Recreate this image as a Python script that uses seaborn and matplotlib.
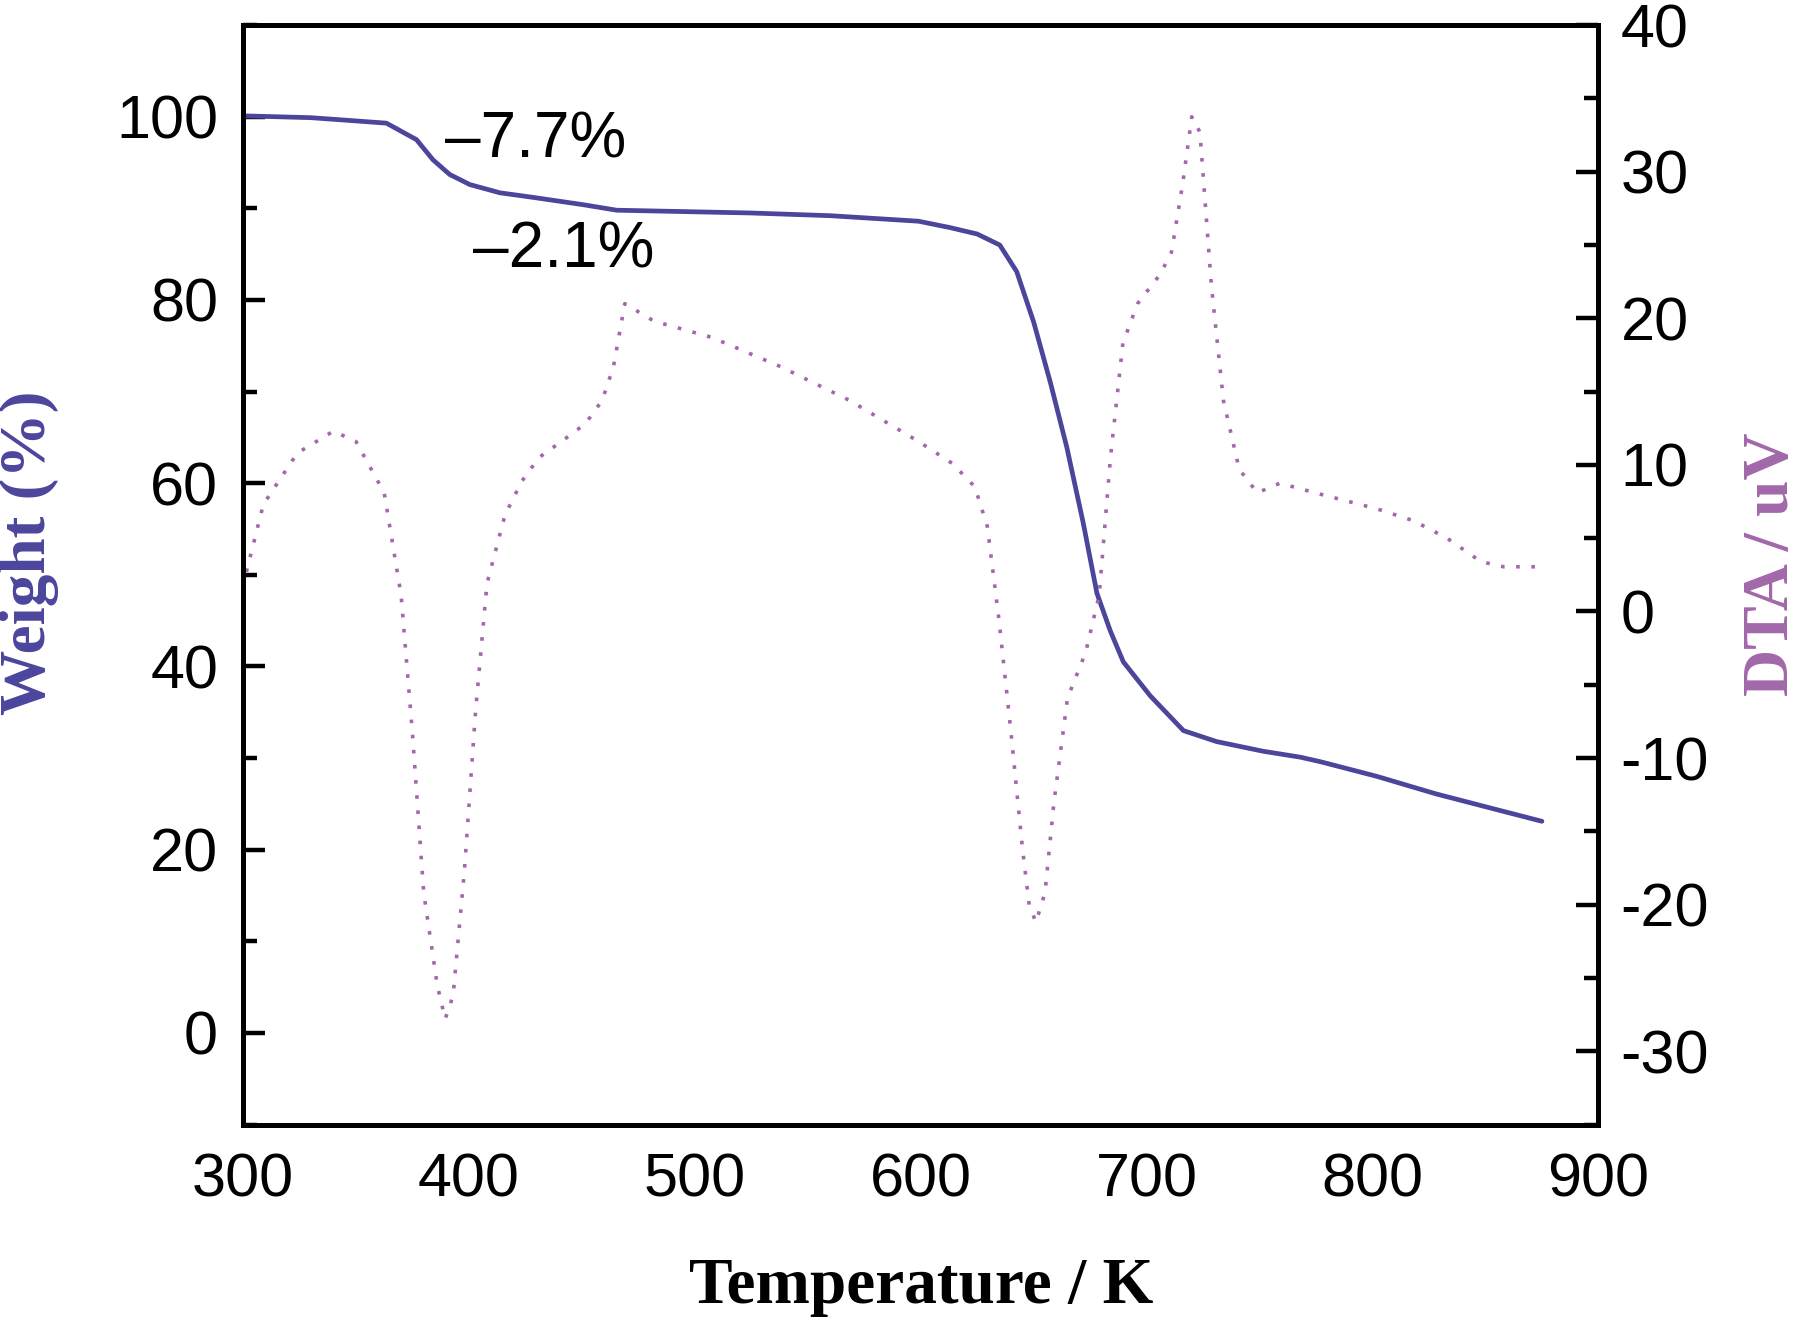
import matplotlib
matplotlib.use("Agg")
import matplotlib.pyplot as plt
from matplotlib.ticker import MultipleLocator
import seaborn as sns
import pandas as pd

# TGA curve (weight %)
tga_temp = [300, 330, 347, 363.5, 376.8, 384.1, 391.5, 400.4, 413.7, 428.4, 450.6, 465.4,
            524.4, 560, 599, 613, 625, 635, 642.5, 650, 657.4, 664.7, 672, 678, 683.9,
            689.7, 701.6, 716.3, 731, 751.5, 768, 777, 802, 828, 853, 875]
tga_weight = [100.1, 99.9, 99.6, 99.3, 97.5, 95.3, 93.7, 92.6, 91.7, 91.2, 90.4, 89.8,
              89.5, 89.2, 88.6, 87.9, 87.2, 86.0, 83.1, 77.6, 71.0, 63.9, 55.6, 48.0, 43.9,
              40.5, 36.8, 33.0, 31.8, 30.75, 30.1, 29.6, 28.0, 26.1, 24.5, 23.1]

# DTA curve (uV)
dta_temp = [301.5, 309, 324, 340, 350, 362.5, 370, 375, 380, 386, 389.5, 393, 398, 403,
            408, 416, 423.5, 431, 441, 451.5, 459, 464, 469, 482, 507.5, 538, 568.5, 599,
            614, 624, 629.5, 634.6, 640, 645, 648, 651, 655, 659, 665, 673, 679, 684,
            689.5, 696, 706, 711, 716, 720, 723.6, 728.7, 734, 741, 749, 759, 777, 802,
            818, 833, 848, 858, 873.5]
dta_signal = [2.7, 7.3, 10.8, 12.3, 11.6, 8.1, 1.1, -8.3, -19.2, -25.5, -27.8, -26.2,
              -17.7, -6.7, 1.9, 6.6, 8.9, 10.5, 11.6, 12.8, 14.4, 16.7, 21.0, 19.8, 18.7,
              16.7, 14.4, 11.6, 10.1, 8.5, 5.8, -0.5, -8.3, -16.1, -20.0, -21.2, -19.2,
              -13.0, -5.9, -2.8, 1.1, 10.5, 18.3, 21.0, 23.0, 24.5, 29.2, 33.75, 32.7, 22.2,
              14.4, 9.7, 8.1, 8.75, 8.0, 7.0, 6.2, 5.0, 3.4, 3.05, 3.05]

annotations = ["\u20137.7%", "\u20132.1%"]
annot_pos = [(389.5, 97.4), (402, 85.4)]

tga = pd.DataFrame({"T": tga_temp, "W": tga_weight})
dta = pd.DataFrame({"T": dta_temp, "D": dta_signal})

sns.set_style("white")
plt.rcParams["font.family"] = ["Liberation Sans", "DejaVu Sans"]
plt.rcParams["axes.unicode_minus"] = False
plt.rcParams["xtick.color"] = "black"
plt.rcParams["ytick.color"] = "black"
plt.rcParams["text.color"] = "black"

tga_color = "#4B459C"
dta_color = "#A268AA"

fig = plt.figure(figsize=(18, 13.23), dpi=100)
ax = fig.add_axes([0.135, 0.15, 0.753, 0.831])
ax2 = ax.twinx()

sns.lineplot(data=tga, x="T", y="W", ax=ax, color=tga_color, lw=3.4)
sns.lineplot(data=dta, x="T", y="D", ax=ax2, color=dta_color, lw=2.6,
             linestyle=(0, (1, 3.2)))

ax.set_xlim(300, 900)
ax.set_ylim(-10, 110)
ax2.set_ylim(-35, 40)

ax.xaxis.set_major_locator(MultipleLocator(100))
ax.xaxis.set_minor_locator(MultipleLocator(50))
ax.yaxis.set_minor_locator(MultipleLocator(10))
ax2.yaxis.set_minor_locator(MultipleLocator(5))
ax.set_yticks([0, 20, 40, 60, 80, 100])
ax2.set_yticks([-30, -20, -10, 0, 10, 20, 30, 40])

for a in (ax, ax2):
    for s in a.spines.values():
        s.set_linewidth(3.6)
        s.set_color("black")

ax.tick_params(axis="both", which="major", direction="in", length=16, width=3.2,
               labelsize=44, pad=18, top=False, right=False, colors="black")
ax.tick_params(axis="both", which="minor", direction="in", length=10, width=3.2,
               top=False, right=False)
ax.tick_params(axis="x", pad=20)
ax2.tick_params(axis="y", which="major", direction="in", length=16, width=3.2,
                labelsize=44, pad=16, colors="black")
ax2.tick_params(axis="y", which="minor", direction="in", length=10, width=3.2)

label_font = {"family": "Liberation Serif", "weight": "bold", "size": 47}
ax.set_xlabel("Temperature / K", fontdict=label_font, color="black", va="center")
ax.set_ylabel("Weight (%)", fontdict=label_font, color=tga_color, va="center")
ax2.set_ylabel("DTA / uV", fontdict=label_font, color=dta_color, rotation=90,
               va="center")
ax.xaxis.set_label_coords(0.50, -0.148)
ax.yaxis.set_label_coords(-0.158, 0.52)
ax2.yaxis.set_label_coords(1.128, 0.51)

for txt, (x, y) in zip(annotations, annot_pos):
    ax.text(x, y, txt, fontsize=46, ha="left", va="center", color="black")

fig.savefig("out.png", dpi=100)
